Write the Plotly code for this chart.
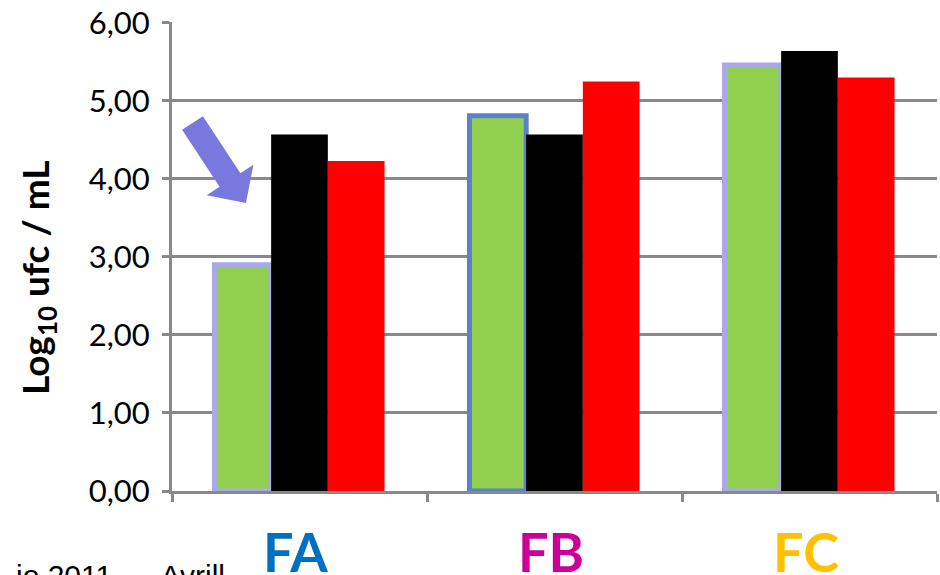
import plotly.graph_objects as go

# Bacterial counts per sample (log10 CFU/mL)
categories = ["FA", "FB", "FC"]
green_vals = [2.90, 4.81, 5.46]
black_vals = [4.57, 4.57, 5.64]
red_vals = [4.23, 5.25, 5.30]
category_colors = ["#0070C0", "#CC0099", "#FFC000"]
y_tick_vals = [0, 1, 2, 3, 4, 5, 6]
y_tick_text = ["0,00", "1,00", "2,00", "3,00", "4,00", "5,00", "6,00"]

W, H = 940, 575
L, R, T, B = 172, 3, 17, 84
PW, PH = W - L - R, H - T - B
Y_TOP = 6.012  # a hair above 6 so the top gridline is kept

fig = go.Figure()
fig.add_trace(go.Bar(
    x=categories, y=green_vals, marker_color="#92D050",
    marker_line=dict(color=["#A8A8EA", "#5A82C8", "#A8A8EA"], width=5),
))
fig.add_trace(go.Bar(x=categories, y=black_vals, marker_color="#000000",
                     marker_line_width=0))
fig.add_trace(go.Bar(x=categories, y=red_vals, marker_color="#FF0000",
                     marker_line_width=0))

grid = "#898989"
fig.update_layout(
    width=W, height=H,
    margin=dict(l=L, r=R, t=T, b=B),
    paper_bgcolor="white", plot_bgcolor="white",
    barmode="group", bargap=0.333, bargroupgap=0,
    showlegend=False,
    font=dict(family="Lato", color="black"),
)
fig.update_yaxes(
    range=[0, Y_TOP], tickvals=y_tick_vals, ticktext=y_tick_text,
    tickfont=dict(size=31, family="Lato"),
    showgrid=True, gridcolor=grid, gridwidth=3,
    showline=True, linecolor=grid, linewidth=3,
    ticks="outside", ticklen=7, tickwidth=3, tickcolor=grid,
    ticklabelstandoff=6, ticklabeloverflow="allow", zeroline=False,
)
fig.update_xaxes(
    showline=True, linecolor=grid, linewidth=3,
    ticks="outside", tickson="boundaries", ticklen=8, tickwidth=3,
    tickcolor=grid, showticklabels=False,
)

# Coloured category labels under the axis
for cat, col in zip(categories, category_colors):
    fig.add_annotation(
        x=cat, xref="x", y=-0.075, yref="paper", yanchor="top",
        xshift=-4, yshift=9, text=f"<b>{cat}</b>", showarrow=False,
        font=dict(size=54, color=col, family="Lato"),
    )

# Axis title
fig.add_annotation(
    x=(10 - L) / PW, xref="paper", y=0.5, yref="paper", yshift=-22,
    text="<b>Log<sub>10</sub> ufc / mL</b>", textangle=-90,
    showarrow=False, font=dict(size=37, family="Lato", color="black"),
)

# Source line at the lower-left edge
fig.add_annotation(
    x=(14 - L) / PW, xref="paper", xanchor="left",
    y=(T + PH - 558) / PH, yref="paper", yanchor="top",
    text="io 2011 \u00a0\u2013\u00a0 Avrill", showarrow=False,
    font=dict(size=30, family="Liberation Sans", color="black"),
)

# Block arrow pointing at the FA bar (pixel outline converted to paper units)
arrow_px = [(202.9, 112.2), (240.4, 169.9), (253.4, 161.3), (246.0, 200.0),
            (206.6, 192.1), (219.6, 183.5), (182.1, 125.8)]
pts = [((px - L) / PW, (T + PH - py) / PH) for px, py in arrow_px]
path = "M " + " L ".join(f"{x:.4f},{y:.4f}" for x, y in pts) + " Z"
fig.add_shape(type="path", path=path, xref="paper", yref="paper",
              fillcolor="#7878DE", line=dict(width=0), layer="above")

fig.write_html("out.html")
